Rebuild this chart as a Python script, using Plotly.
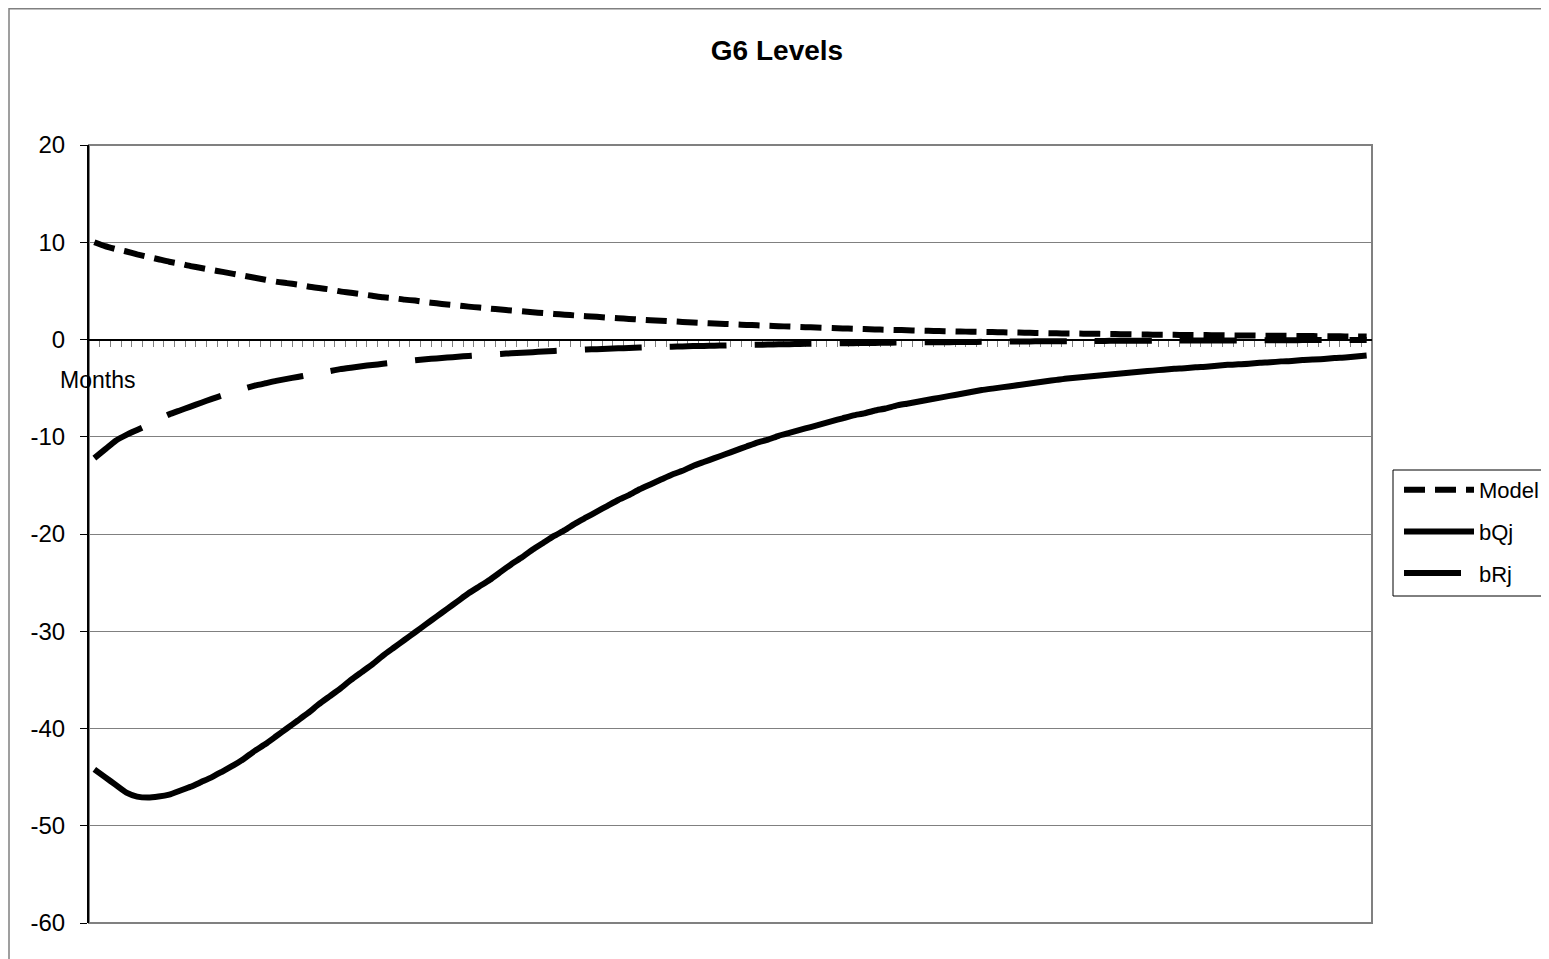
import plotly.graph_objects as go

months = list(range(1, 121))

model = [10.0, 9.6, 9.3, 9.05, 8.75, 8.5, 8.25, 8.0, 7.8, 7.55,
         7.35, 7.15, 6.95, 6.75, 6.55, 6.35, 6.15, 5.95, 5.8, 5.65,
         5.45, 5.3, 5.15, 4.95, 4.8, 4.65, 4.5, 4.35, 4.25, 4.1,
         4.0, 3.85, 3.72, 3.6, 3.5, 3.38, 3.28, 3.18, 3.08, 2.98,
         2.9, 2.8, 2.72, 2.63, 2.55, 2.47, 2.4, 2.33, 2.25, 2.18,
         2.12, 2.05, 1.99, 1.93, 1.87, 1.81, 1.76, 1.7, 1.65, 1.6,
         1.55, 1.5, 1.46, 1.41, 1.37, 1.33, 1.29, 1.25, 1.21, 1.17,
         1.14, 1.1, 1.07, 1.04, 1.01, 0.98, 0.95, 0.92, 0.89, 0.87,
         0.85, 0.82, 0.8, 0.78, 0.76, 0.74, 0.72, 0.7, 0.68, 0.66,
         0.64, 0.62, 0.61, 0.59, 0.58, 0.56, 0.55, 0.53, 0.52, 0.5,
         0.49, 0.48, 0.47, 0.46, 0.45, 0.44, 0.43, 0.42, 0.41, 0.4,
         0.39, 0.38, 0.37, 0.36, 0.35, 0.34, 0.33, 0.32, 0.31, 0.3]

bQj = [-44.2, -45.0, -45.8, -46.6, -47.0, -47.1, -47.0, -46.8, -46.4, -46.0,
       -45.5, -45.0, -44.4, -43.8, -43.1, -42.3, -41.6, -40.8, -40.0, -39.2,
       -38.4, -37.5, -36.7, -35.9, -35.0, -34.2, -33.4, -32.5, -31.7, -30.9,
       -30.1, -29.3, -28.5, -27.7, -26.9, -26.1, -25.4, -24.7, -23.9, -23.1,
       -22.4, -21.6, -20.9, -20.2, -19.6, -18.9, -18.3, -17.7, -17.1, -16.5,
       -16.0, -15.4, -14.9, -14.4, -13.9, -13.5, -13.0, -12.6, -12.2, -11.8,
       -11.4, -11.0, -10.6, -10.3, -9.9, -9.6, -9.3, -9.0, -8.7, -8.4,
       -8.1, -7.8, -7.6, -7.3, -7.1, -6.8, -6.6, -6.4, -6.2, -6.0,
       -5.8, -5.6, -5.4, -5.2, -5.05, -4.9, -4.75, -4.6, -4.45, -4.3,
       -4.15, -4.0, -3.9, -3.8, -3.7, -3.6, -3.5, -3.4, -3.3, -3.2,
       -3.1, -3.0, -2.95, -2.85, -2.8, -2.7, -2.6, -2.55, -2.5, -2.4,
       -2.35, -2.25, -2.2, -2.1, -2.05, -2.0, -1.9, -1.85, -1.75, -1.65]

bRj = [-12.2, -11.3, -10.4, -9.8, -9.3, -8.8, -8.2, -7.7, -7.3, -6.9,
       -6.5, -6.1, -5.75, -5.45, -5.05, -4.75, -4.5, -4.25, -4.05, -3.85,
       -3.65, -3.45, -3.25, -3.05, -2.9, -2.75, -2.62, -2.5, -2.38, -2.25,
       -2.14, -2.03, -1.95, -1.86, -1.77, -1.69, -1.61, -1.54, -1.48, -1.42,
       -1.36, -1.3, -1.24, -1.18, -1.13, -1.08, -1.03, -0.99, -0.95, -0.91,
       -0.87, -0.83, -0.8, -0.77, -0.74, -0.71, -0.68, -0.66, -0.63, -0.61,
       -0.58, -0.56, -0.54, -0.52, -0.5, -0.48, -0.46, -0.44, -0.42, -0.41,
       -0.39, -0.38, -0.36, -0.35, -0.34, -0.32, -0.31, -0.3, -0.29, -0.28,
       -0.27, -0.26, -0.25, -0.24, -0.23, -0.22, -0.21, -0.2, -0.19, -0.18,
       -0.18, -0.17, -0.16, -0.16, -0.15, -0.14, -0.14, -0.13, -0.13, -0.12,
       -0.12, -0.11, -0.11, -0.1, -0.1, -0.09, -0.09, -0.09, -0.08, -0.08,
       -0.07, -0.07, -0.07, -0.06, -0.06, -0.06, -0.05, -0.05, -0.05, -0.05]

y_ticks = [20, 10, 0, -10, -20, -30, -40, -50, -60]
y_tick_labels = ["20", "10", "0", "-10", "-20", "-30", "-40", "-50", "-60"]

FONT = "Arial, Liberation Sans, sans-serif"
OFF = 8                      # page body margin
W, H = 1549 - OFF, 959 - OFF
# plot area in screen pixels
SL, SR, ST, SB = 89, 1372, 145, 923
L, R, T, B = SL - OFF, SR - OFF, ST - OFF, SB - OFF


def px(x):
    """screen x pixel -> paper fraction"""
    return (x - SL) / (SR - SL)


def py(y):
    """screen y pixel -> paper fraction"""
    return (SB - y) / (SB - ST)


fig = go.Figure()
fig.add_trace(go.Scatter(x=months, y=model, name="Model", mode="lines",
                         legendgroup="a",
                         line=dict(color="black", width=6, dash="21px,10px",
                                   shape="spline", smoothing=0.4)))
fig.add_trace(go.Scatter(x=months, y=bQj, name="bQj", mode="lines",
                         legendgroup="b",
                         line=dict(color="black", width=6,
                                   shape="spline", smoothing=0.4)))
fig.add_trace(go.Scatter(x=months, y=bRj, name="bRj", mode="lines",
                         legendgroup="c",
                         line=dict(color="black", width=6, dash="57px,28px",
                                   shape="spline", smoothing=0.4)))

shapes = [
    # outer chart border
    dict(type="rect", xref="paper", yref="paper", x0=px(9), y0=py(1010),
         x1=px(1620), y1=py(8.8), line=dict(color="#808080", width=1.5)),
    # plot area border
    dict(type="rect", xref="paper", yref="paper", x0=0, y0=0, x1=1, y1=1,
         line=dict(color="#808080", width=2), layer="below"),
    # legend box
    dict(type="rect", xref="paper", yref="paper", x0=px(1393), y0=py(596),
         x1=px(1620), y1=py(470), line=dict(color="black", width=1)),
]

fig.update_layout(
    width=W, height=H,
    margin=dict(l=L, r=W - R, t=T, b=H - B, autoexpand=False),
    paper_bgcolor="white", plot_bgcolor="white",
    font=dict(family=FONT, color="black", size=23),
    title=dict(text="<b>G6 Levels</b>", x=(777 - OFF) / W, xref="container",
               xanchor="center",
               y=1 - (50 - OFF) / H, yref="container", yanchor="middle",
               font=dict(family=FONT, size=28, color="black")),
    xaxis=dict(range=[0.5, 120.5], showgrid=False, zeroline=False,
               anchor="free", position=0.75, showline=True, linecolor="black",
               linewidth=2, ticks="outside", tickmode="array",
               tickvals=[m - 0.5 for m in months] + [120.5],
               ticklen=6, tickwidth=1, tickcolor="#808080",
               showticklabels=False, layer="below traces"),
    yaxis=dict(range=[-60, 20], tickmode="array", tickvals=y_ticks,
               ticktext=y_tick_labels,
               showgrid=True, gridcolor="#808080", gridwidth=1, zeroline=False,
               showline=True, linecolor="black", linewidth=2,
               ticks="outside", ticklen=7, tickcolor="black", tickwidth=1,
               ticklabelstandoff=10, tickfont=dict(size=24),
               layer="below traces"),
    showlegend=True,
    legend=dict(x=px(1399), y=py(469), xanchor="left", yanchor="top",
                bgcolor="rgba(0,0,0,0)", borderwidth=0,
                font=dict(family=FONT, size=22), itemwidth=70,
                traceorder="grouped", tracegroupgap=10),
    shapes=shapes,
    annotations=[dict(text="Months", xref="paper", yref="paper",
                      x=px(58), y=py(380), xanchor="left", yanchor="middle",
                      showarrow=False, font=dict(family=FONT, size=23))],
)

fig.write_html("out.html")
